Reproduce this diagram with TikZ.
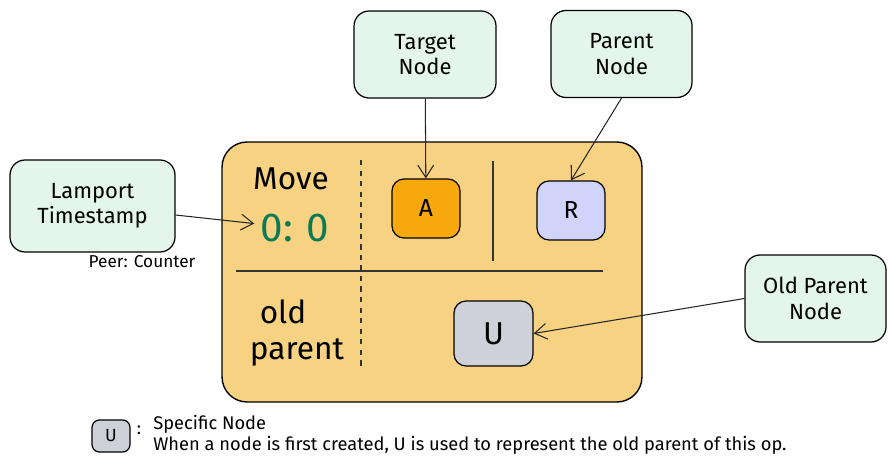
\documentclass[tikz,border=0pt]{standalone}
\usepackage{fontspec}
\setmainfont{Fira Sans}
\usepackage{tikz}
\usetikzlibrary{arrows,arrows.meta,positioning}

\definecolor{opfill}{RGB}{247,210,130}
\definecolor{notefill}{RGB}{228,246,235}
\definecolor{targetfill}{RGB}{246,168,12}
\definecolor{parentfill}{RGB}{208,211,250}
\definecolor{oldfill}{RGB}{206,210,216}
\definecolor{tsgreen}{RGB}{12,122,82}

\begin{document}
\begin{tikzpicture}[
	x=0.02cm, y=-0.02cm,
	>={Straight Barb[length=7pt,width=9pt]},
	note/.style={
		draw, line width=0.7pt, rectangle, rounded corners=0.3cm,
		fill=notefill, align=center, text=black,
		minimum width=2.82cm, minimum height=1.74cm,
		font=\fontsize{12.5}{14.5}\selectfont
	},
	elem/.style={
		draw, line width=0.7pt, rectangle, rounded corners=0.24cm,
		minimum width=1.36cm, minimum height=1.18cm,
		font=\fontsize{14}{16}\selectfont
	},
	big/.style={font=\fontsize{18}{20}\selectfont},
	divider/.style={line width=0.6pt, black!80},
	link/.style={->, line width=0.6pt, black!85}
	]
	\useasboundingbox (0,0) rectangle (891,465);
	\node[draw, line width=0.8pt, rounded corners=0.5cm, fill=opfill,
		minimum width=8.4cm, minimum height=5.2cm] (op) at (432,272) {};
	\draw[divider] (236,271) -- (603,271);
	\draw[divider, dashed] (361,160) -- (361,370);
	\draw[divider] (493,161) -- (493,261);
	\node[big] (move) at (291,179) {Move};
	\node[big, text=tsgreen, font=\fontsize{23}{25}\selectfont] (ts) at (295,228) {0: 0};
	\node[big] (old) at (283,312) {old};
	\node[big] (par) at (297,352) {parent};
	\node[elem, fill=targetfill] (A) at (426,208.5) {A};
	\node[elem, fill=parentfill] (R) at (571,210.5) {R};
	\node[elem, fill=oldfill, minimum width=1.58cm, minimum height=1.3cm,
		font=\fontsize{18}{20}\selectfont] (U) at (493.5,333.5) {U};
	\node[note, minimum width=2.84cm] (target) at (425,54.5) {Target\\Node};
	\node[note] (parent) at (621.5,54) {Parent\\Node};
	\node[note] (oldparent) at (815.5,298.5) {Old Parent\\Node};
	\node[note, minimum width=3.3cm, minimum height=1.84cm] (lamport) at (92.5,206) {Lamport\\Timestamp};
	\node[font=\fontsize{9.8}{11}\selectfont] (peer) at (142,262) {Peer: Counter};
	\draw[link] (lamport) -- (ts);
	\draw[link] (target) -- (A);
	\draw[link] (parent.south) -- (R.north);
	\draw[link] (oldparent.west) -- (U.east);
	\node[elem, fill=oldfill, minimum width=0.76cm, minimum height=0.64cm,
		rounded corners=0.15cm, font=\fontsize{10}{12}\selectfont] (legU) at (111,436) {U};
	\node[right = 0pt of legU, yshift=3pt] (colon) {:};
	\node[anchor=north west, align=left, inner sep=0pt,
		font=\fontsize{10.4}{11.8}\selectfont] (legtext) at (153,415)
		{Specific Node\\When a node is first created, U is used to represent the old parent of this op.};
\end{tikzpicture}
\end{document}
